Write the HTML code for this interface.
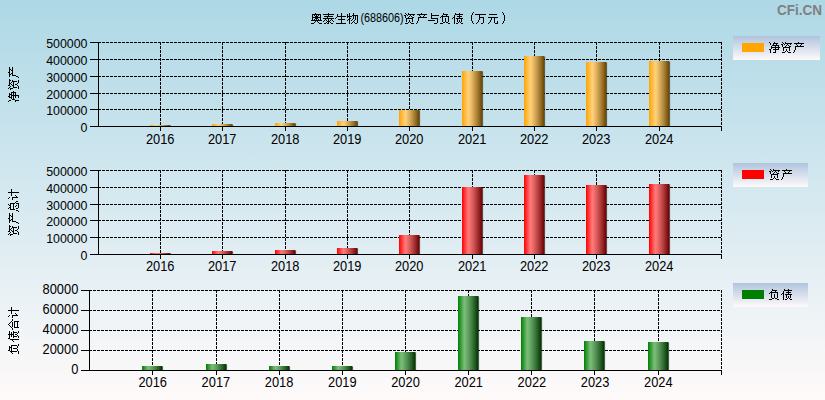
<!DOCTYPE html>
<html><head><meta charset="utf-8"><title>chart</title>
<style>
html,body{margin:0;padding:0;background:#fff;}
body{width:825px;height:400px;overflow:hidden;}
svg{display:block;font-family:"Liberation Sans",sans-serif;}
.yl text{font-size:12.4px;fill:#000;}
.xl text{font-size:12.85px;fill:#000;}
.wm{font-family:"Liberation Sans",sans-serif;}
</style></head><body>
<svg width="825" height="400" viewBox="0 0 825 400">
<defs>
<path id="g0" d="M4 2h1v1h-1zM1 3h9v1h-9zM1 4h1v1h-1zM3 4h1v1h-1zM5 4h1v1h-1zM7 4h1v1h-1zM9 4h1v1h-1zM1 5h1v1h-1zM4 5h3v1h-3zM9 5h1v1h-1zM1 6h9v1h-9zM1 7h1v1h-1zM4 7h3v1h-3zM9 7h1v1h-1zM1 8h1v1h-1zM3 8h1v1h-1zM5 8h1v1h-1zM7 8h1v1h-1zM9 8h1v1h-1zM0 9h11v1h-11zM4 10h1v1h-1zM6 10h1v1h-1zM3 11h1v1h-1zM7 11h1v1h-1zM0 12h3v1h-3zM8 12h3v1h-3z"/>
<path id="g1" d="M5 2h1v1h-1zM0 3h11v1h-11zM5 4h1v1h-1zM1 5h9v1h-9zM4 6h1v1h-1zM0 7h11v1h-11zM2 8h1v1h-1zM5 8h1v1h-1zM8 8h1v1h-1zM1 9h1v1h-1zM3 9h1v1h-1zM5 9h1v1h-1zM7 9h1v1h-1zM9 9h1v1h-1zM0 10h1v1h-1zM4 10h3v1h-3zM10 10h1v1h-1zM3 11h1v1h-1zM5 11h1v1h-1zM7 11h1v1h-1zM1 12h2v1h-2zM4 12h2v1h-2zM8 12h2v1h-2z"/>
<path id="g2" d="M6 2h1v1h-1zM2 3h1v1h-1zM6 3h1v1h-1zM2 4h1v1h-1zM6 4h1v1h-1zM2 5h9v1h-9zM1 6h1v1h-1zM6 6h1v1h-1zM0 7h1v1h-1zM6 7h1v1h-1zM3 8h7v1h-7zM6 9h1v1h-1zM6 10h1v1h-1zM6 11h1v1h-1zM1 12h10v1h-10z"/>
<path id="g3" d="M2 2h1v1h-1zM6 2h1v1h-1zM0 3h1v1h-1zM2 3h1v1h-1zM6 3h1v1h-1zM0 4h1v1h-1zM2 4h1v1h-1zM5 4h6v1h-6zM0 5h5v1h-5zM6 5h1v1h-1zM8 5h1v1h-1zM10 5h1v1h-1zM0 6h1v1h-1zM2 6h1v1h-1zM6 6h1v1h-1zM8 6h1v1h-1zM10 6h1v1h-1zM2 7h2v1h-2zM6 7h1v1h-1zM8 7h1v1h-1zM10 7h1v1h-1zM1 8h2v1h-2zM5 8h1v1h-1zM8 8h1v1h-1zM10 8h1v1h-1zM0 9h1v1h-1zM2 9h1v1h-1zM4 9h1v1h-1zM7 9h1v1h-1zM10 9h1v1h-1zM2 10h1v1h-1zM6 10h1v1h-1zM10 10h1v1h-1zM2 11h1v1h-1zM5 11h1v1h-1zM7 11h1v1h-1zM10 11h1v1h-1zM2 12h1v1h-1zM4 12h1v1h-1zM8 12h2v1h-2z"/>
<path id="g4" d="M1 2h1v1h-1zM4 2h1v1h-1zM2 3h1v1h-1zM4 3h7v1h-7zM0 4h2v1h-2zM3 4h1v1h-1zM6 4h1v1h-1zM9 4h1v1h-1zM1 5h1v1h-1zM5 5h1v1h-1zM7 5h1v1h-1zM1 6h1v1h-1zM4 6h1v1h-1zM8 6h2v1h-2zM2 7h7v1h-7zM2 8h1v1h-1zM8 8h1v1h-1zM2 9h1v1h-1zM5 9h1v1h-1zM8 9h1v1h-1zM2 10h1v1h-1zM5 10h1v1h-1zM8 10h1v1h-1zM4 11h1v1h-1zM6 11h1v1h-1zM1 12h3v1h-3zM7 12h3v1h-3z"/>
<path id="g5" d="M5 2h1v1h-1zM1 3h10v1h-10zM3 4h1v1h-1zM8 4h1v1h-1zM4 5h1v1h-1zM7 5h1v1h-1zM2 6h9v1h-9zM2 7h1v1h-1zM2 8h1v1h-1zM2 9h1v1h-1zM1 10h1v1h-1zM1 11h1v1h-1zM0 12h1v1h-1z"/>
<path id="g6" d="M3 2h1v1h-1zM3 3h1v1h-1zM3 4h8v1h-8zM3 5h1v1h-1zM3 6h1v1h-1zM3 7h7v1h-7zM9 8h1v1h-1zM0 9h7v1h-7zM9 9h1v1h-1zM9 10h1v1h-1zM9 11h1v1h-1zM6 12h3v1h-3z"/>
<path id="g7" d="M3 2h1v1h-1zM3 3h5v1h-5zM2 4h1v1h-1zM6 4h1v1h-1zM1 5h8v1h-8zM0 6h1v1h-1zM2 6h1v1h-1zM8 6h1v1h-1zM2 7h1v1h-1zM5 7h1v1h-1zM8 7h1v1h-1zM2 8h1v1h-1zM5 8h1v1h-1zM8 8h1v1h-1zM2 9h1v1h-1zM5 9h1v1h-1zM8 9h1v1h-1zM2 10h1v1h-1zM5 10h1v1h-1zM8 10h1v1h-1zM3 11h2v1h-2zM6 11h2v1h-2zM0 12h3v1h-3zM8 12h2v1h-2z"/>
<path id="g8" d="M3 2h1v1h-1zM7 2h1v1h-1zM3 3h8v1h-8zM2 4h1v1h-1zM7 4h1v1h-1zM2 5h1v1h-1zM5 5h5v1h-5zM1 6h2v1h-2zM7 6h1v1h-1zM0 7h1v1h-1zM2 7h1v1h-1zM4 7h7v1h-7zM2 8h1v1h-1zM5 8h1v1h-1zM9 8h1v1h-1zM2 9h1v1h-1zM5 9h1v1h-1zM7 9h1v1h-1zM9 9h1v1h-1zM2 10h1v1h-1zM5 10h1v1h-1zM7 10h1v1h-1zM9 10h1v1h-1zM2 11h1v1h-1zM6 11h1v1h-1zM8 11h1v1h-1zM2 12h1v1h-1zM4 12h2v1h-2zM9 12h2v1h-2z"/>
<path id="g9" d="M9 1h1v1h-1zM8 2h1v1h-1zM8 3h1v1h-1zM7 4h1v1h-1zM7 5h1v1h-1zM7 6h1v1h-1zM7 7h1v1h-1zM7 8h1v1h-1zM7 9h1v1h-1zM8 10h1v1h-1zM8 11h1v1h-1zM9 12h1v1h-1z"/>
<path id="g10" d="M0 3h11v1h-11zM4 4h1v1h-1zM4 5h1v1h-1zM4 6h5v1h-5zM4 7h1v1h-1zM8 7h1v1h-1zM4 8h1v1h-1zM8 8h1v1h-1zM3 9h1v1h-1zM8 9h1v1h-1zM3 10h1v1h-1zM8 10h1v1h-1zM2 11h1v1h-1zM8 11h1v1h-1zM1 12h1v1h-1zM6 12h2v1h-2z"/>
<path id="g11" d="M2 3h8v1h-8zM1 6h10v1h-10zM4 7h1v1h-1zM7 7h1v1h-1zM4 8h1v1h-1zM7 8h1v1h-1zM3 9h1v1h-1zM7 9h1v1h-1zM3 10h1v1h-1zM7 10h1v1h-1zM10 10h1v1h-1zM2 11h1v1h-1zM7 11h1v1h-1zM10 11h1v1h-1zM1 12h1v1h-1zM8 12h3v1h-3z"/>
<path id="g12" d="M3 1h1v1h-1zM4 2h1v1h-1zM4 3h1v1h-1zM5 4h1v1h-1zM5 5h1v1h-1zM5 6h1v1h-1zM5 7h1v1h-1zM5 8h1v1h-1zM5 9h1v1h-1zM4 10h1v1h-1zM4 11h1v1h-1zM3 12h1v1h-1z"/>
<linearGradient id="cy0" x1="0" x2="1" y1="0" y2="0"><stop offset="0" stop-color="#fff" stop-opacity="0"/><stop offset="0.3" stop-color="#fff" stop-opacity="0.47"/><stop offset="0.34" stop-color="#fff" stop-opacity="0.47"/><stop offset="1" stop-color="#000" stop-opacity="0.59"/></linearGradient>
<path id="g13" d="M0 2h1v1h-1zM5 2h1v1h-1zM1 3h1v1h-1zM4 3h5v1h-5zM1 4h1v1h-1zM4 4h1v1h-1zM7 4h1v1h-1zM3 5h7v1h-7zM2 6h1v1h-1zM6 6h1v1h-1zM9 6h1v1h-1zM2 7h9v1h-9zM2 8h1v1h-1zM6 8h1v1h-1zM9 8h1v1h-1zM0 9h2v1h-2zM4 9h6v1h-6zM1 10h1v1h-1zM6 10h1v1h-1zM1 11h1v1h-1zM6 11h1v1h-1zM1 12h1v1h-1zM4 12h3v1h-3z"/>
<linearGradient id="cy1" x1="0" x2="1" y1="0" y2="0"><stop offset="0" stop-color="#fff" stop-opacity="0"/><stop offset="0.3" stop-color="#fff" stop-opacity="0.47"/><stop offset="0.34" stop-color="#fff" stop-opacity="0.47"/><stop offset="1" stop-color="#000" stop-opacity="0.59"/></linearGradient>
<path id="g14" d="M3 2h1v1h-1zM7 2h1v1h-1zM4 3h1v1h-1zM6 3h1v1h-1zM2 4h7v1h-7zM2 5h1v1h-1zM8 5h1v1h-1zM2 6h1v1h-1zM8 6h1v1h-1zM2 7h7v1h-7zM2 8h1v1h-1zM8 8h1v1h-1zM5 9h1v1h-1zM9 9h1v1h-1zM1 10h1v1h-1zM3 10h1v1h-1zM6 10h1v1h-1zM8 10h1v1h-1zM10 10h1v1h-1zM1 11h1v1h-1zM3 11h1v1h-1zM8 11h1v1h-1zM10 11h1v1h-1zM0 12h1v1h-1zM4 12h5v1h-5z"/>
<path id="g15" d="M1 2h1v1h-1zM7 2h1v1h-1zM2 3h1v1h-1zM7 3h1v1h-1zM7 4h1v1h-1zM4 5h7v1h-7zM0 6h3v1h-3zM7 6h1v1h-1zM2 7h1v1h-1zM7 7h1v1h-1zM2 8h1v1h-1zM7 8h1v1h-1zM2 9h1v1h-1zM4 9h1v1h-1zM7 9h1v1h-1zM2 10h2v1h-2zM7 10h1v1h-1zM2 11h1v1h-1zM7 11h1v1h-1zM7 12h1v1h-1z"/>
<linearGradient id="cy2" x1="0" x2="1" y1="0" y2="0"><stop offset="0" stop-color="#fff" stop-opacity="0"/><stop offset="0.3" stop-color="#fff" stop-opacity="0.47"/><stop offset="0.34" stop-color="#fff" stop-opacity="0.47"/><stop offset="1" stop-color="#000" stop-opacity="0.59"/></linearGradient>
<path id="g16" d="M5 2h1v1h-1zM4 3h1v1h-1zM6 3h1v1h-1zM3 4h1v1h-1zM7 4h1v1h-1zM2 5h1v1h-1zM8 5h1v1h-1zM0 6h2v1h-2zM3 6h5v1h-5zM9 6h2v1h-2zM2 8h7v1h-7zM2 9h1v1h-1zM8 9h1v1h-1zM2 10h1v1h-1zM8 10h1v1h-1zM2 11h7v1h-7zM2 12h1v1h-1zM8 12h1v1h-1z"/>
<linearGradient id="lg" x1="0" x2="0" y1="0" y2="1"><stop offset="0" stop-color="#b0c4de"/><stop offset="1" stop-color="#fffafa"/></linearGradient>
<linearGradient id="bg" x1="0" x2="0" y1="0" y2="1"><stop offset="0" stop-color="#add8e6"/><stop offset="1" stop-color="#fffafa"/></linearGradient>
</defs>
<rect x="0" y="0" width="825" height="400" fill="url(#bg)"/>
<g fill="#000" shape-rendering="crispEdges">
<use href="#g0" x="311" y="11"/>
<use href="#g1" x="323" y="11"/>
<use href="#g2" x="335" y="11"/>
<use href="#g3" x="347" y="11"/>
</g>
<g fill="#000" shape-rendering="crispEdges">
<use href="#g4" x="404" y="11"/>
<use href="#g5" x="416" y="11"/>
<use href="#g6" x="428" y="11"/>
<use href="#g7" x="440" y="11"/>
<use href="#g8" x="452" y="11"/>
</g>
<g fill="#000" shape-rendering="crispEdges">
<use href="#g9" x="464" y="11"/>
</g>
<g fill="#000" shape-rendering="crispEdges">
<use href="#g10" x="475" y="11"/>
<use href="#g11" x="487" y="11"/>
</g>
<g fill="#000" shape-rendering="crispEdges">
<use href="#g12" x="499" y="11"/>
</g>
<text transform="translate(360.4 22.1) scale(0.985 1.09)" font-size="11" fill="#000">(688606)</text>
<text transform="translate(822.1 14.7) scale(0.995 1.12)" text-anchor="end" font-size="13.6" font-weight="bold" fill="#808080" class="wm">CFi.CN</text>
<g shape-rendering="crispEdges" stroke="#000" stroke-width="1" fill="none">
<line x1="98" y1="42.5" x2="722" y2="42.5" stroke-dasharray="3 1"/>
<line x1="98" y1="59.5" x2="722" y2="59.5" stroke-dasharray="3 1"/>
<line x1="98" y1="76.5" x2="722" y2="76.5" stroke-dasharray="3 1"/>
<line x1="98" y1="93.5" x2="722" y2="93.5" stroke-dasharray="3 1"/>
<line x1="98" y1="109.5" x2="722" y2="109.5" stroke-dasharray="3 1"/>
<line x1="160.5" y1="42" x2="160.5" y2="126" stroke-dasharray="3 1"/>
<line x1="222.5" y1="42" x2="222.5" y2="126" stroke-dasharray="3 1"/>
<line x1="285.5" y1="42" x2="285.5" y2="126" stroke-dasharray="3 1"/>
<line x1="347.5" y1="42" x2="347.5" y2="126" stroke-dasharray="3 1"/>
<line x1="409.5" y1="42" x2="409.5" y2="126" stroke-dasharray="3 1"/>
<line x1="472.5" y1="42" x2="472.5" y2="126" stroke-dasharray="3 1"/>
<line x1="534.5" y1="42" x2="534.5" y2="126" stroke-dasharray="3 1"/>
<line x1="596.5" y1="42" x2="596.5" y2="126" stroke-dasharray="3 1"/>
<line x1="659.5" y1="42" x2="659.5" y2="126" stroke-dasharray="3 1"/>
<line x1="721.5" y1="42" x2="721.5" y2="126" stroke-dasharray="3 1"/>
</g>
<g><rect x="150.9" y="125.5" width="20.2" height="0.5" fill="#000" fill-opacity="0.6"/>
<rect x="150" y="125" width="20.2" height="1" fill="rgb(255,165,0)"/>
<rect x="150" y="125" width="20.2" height="1" fill="url(#cy0)"/>
<rect x="212.9" y="124.5" width="20.2" height="1.5" fill="#000" fill-opacity="0.6"/>
<rect x="212" y="124" width="20.2" height="2" fill="rgb(255,165,0)"/>
<rect x="212" y="124" width="20.2" height="2" fill="url(#cy0)"/>
<rect x="275.9" y="123.5" width="20.2" height="2.5" fill="#000" fill-opacity="0.6"/>
<rect x="275" y="123" width="20.2" height="3" fill="rgb(255,165,0)"/>
<rect x="275" y="123" width="20.2" height="3" fill="url(#cy0)"/>
<rect x="337.9" y="121.5" width="20.2" height="4.5" fill="#000" fill-opacity="0.6"/>
<rect x="337" y="121" width="20.2" height="5" fill="rgb(255,165,0)"/>
<rect x="337" y="121" width="20.2" height="5" fill="url(#cy0)"/>
<rect x="399.9" y="110.5" width="20.2" height="15.5" fill="#000" fill-opacity="0.6"/>
<rect x="399" y="110" width="20.2" height="16" fill="rgb(255,165,0)"/>
<rect x="399" y="110" width="20.2" height="16" fill="url(#cy0)"/>
<rect x="462.9" y="71.5" width="20.2" height="54.5" fill="#000" fill-opacity="0.6"/>
<rect x="462" y="71" width="20.2" height="55" fill="rgb(255,165,0)"/>
<rect x="462" y="71" width="20.2" height="55" fill="url(#cy0)"/>
<rect x="524.9" y="56.5" width="20.2" height="69.5" fill="#000" fill-opacity="0.6"/>
<rect x="524" y="56" width="20.2" height="70" fill="rgb(255,165,0)"/>
<rect x="524" y="56" width="20.2" height="70" fill="url(#cy0)"/>
<rect x="586.9" y="62.5" width="20.2" height="63.5" fill="#000" fill-opacity="0.6"/>
<rect x="586" y="62" width="20.2" height="64" fill="rgb(255,165,0)"/>
<rect x="586" y="62" width="20.2" height="64" fill="url(#cy0)"/>
<rect x="649.9" y="61.5" width="20.2" height="64.5" fill="#000" fill-opacity="0.6"/>
<rect x="649" y="61" width="20.2" height="65" fill="rgb(255,165,0)"/>
<rect x="649" y="61" width="20.2" height="65" fill="url(#cy0)"/></g>
<g shape-rendering="crispEdges" stroke="#000" stroke-width="1" fill="none">
<line x1="98.5" y1="42" x2="98.5" y2="127"/>
<line x1="90" y1="126.5" x2="722" y2="126.5"/>
<line x1="90" y1="42.5" x2="99" y2="42.5"/>
<line x1="90" y1="59.5" x2="99" y2="59.5"/>
<line x1="90" y1="76.5" x2="99" y2="76.5"/>
<line x1="90" y1="93.5" x2="99" y2="93.5"/>
<line x1="90" y1="109.5" x2="99" y2="109.5"/>
<line x1="160.5" y1="127" x2="160.5" y2="131"/>
<line x1="222.5" y1="127" x2="222.5" y2="131"/>
<line x1="285.5" y1="127" x2="285.5" y2="131"/>
<line x1="347.5" y1="127" x2="347.5" y2="131"/>
<line x1="409.5" y1="127" x2="409.5" y2="131"/>
<line x1="472.5" y1="127" x2="472.5" y2="131"/>
<line x1="534.5" y1="127" x2="534.5" y2="131"/>
<line x1="596.5" y1="127" x2="596.5" y2="131"/>
<line x1="659.5" y1="127" x2="659.5" y2="131"/>
<line x1="721.5" y1="127" x2="721.5" y2="131"/>
</g>
<g class="yl" text-anchor="end">
<text x="87.5" y="47.8">500000</text>
<text x="87.5" y="64.8">400000</text>
<text x="87.5" y="81.8">300000</text>
<text x="87.5" y="98.8">200000</text>
<text x="87.5" y="114.8">100000</text>
<text x="87.5" y="131.8">0</text>
</g>
<g class="xl" text-anchor="middle">
<text transform="translate(160.2 144.0) scale(1 1.07)">2016</text>
<text transform="translate(222.2 144.0) scale(1 1.07)">2017</text>
<text transform="translate(285.2 144.0) scale(1 1.07)">2018</text>
<text transform="translate(347.2 144.0) scale(1 1.07)">2019</text>
<text transform="translate(409.2 144.0) scale(1 1.07)">2020</text>
<text transform="translate(472.2 144.0) scale(1 1.07)">2021</text>
<text transform="translate(534.2 144.0) scale(1 1.07)">2022</text>
<text transform="translate(596.2 144.0) scale(1 1.07)">2023</text>
<text transform="translate(659.2 144.0) scale(1 1.07)">2024</text>
</g>
<g transform="translate(6 102) rotate(-90)"><g fill="#000" shape-rendering="crispEdges">
<use href="#g13" x="0" y="0"/>
<use href="#g4" x="12" y="0"/>
<use href="#g5" x="24" y="0"/>
</g></g>
<rect x="733" y="36" width="87" height="24" fill="url(#lg)"/>
<rect x="742" y="43" width="22" height="9" fill="rgb(255,165,0)"/>
<g fill="#000" shape-rendering="crispEdges">
<use href="#g13" x="769" y="40"/>
<use href="#g4" x="781" y="40"/>
<use href="#g5" x="793" y="40"/>
</g>
<g shape-rendering="crispEdges" stroke="#000" stroke-width="1" fill="none">
<line x1="98" y1="170.5" x2="722" y2="170.5" stroke-dasharray="3 1"/>
<line x1="98" y1="187.5" x2="722" y2="187.5" stroke-dasharray="3 1"/>
<line x1="98" y1="204.5" x2="722" y2="204.5" stroke-dasharray="3 1"/>
<line x1="98" y1="220.5" x2="722" y2="220.5" stroke-dasharray="3 1"/>
<line x1="98" y1="237.5" x2="722" y2="237.5" stroke-dasharray="3 1"/>
<line x1="160.5" y1="170" x2="160.5" y2="254" stroke-dasharray="3 1"/>
<line x1="222.5" y1="170" x2="222.5" y2="254" stroke-dasharray="3 1"/>
<line x1="285.5" y1="170" x2="285.5" y2="254" stroke-dasharray="3 1"/>
<line x1="347.5" y1="170" x2="347.5" y2="254" stroke-dasharray="3 1"/>
<line x1="409.5" y1="170" x2="409.5" y2="254" stroke-dasharray="3 1"/>
<line x1="472.5" y1="170" x2="472.5" y2="254" stroke-dasharray="3 1"/>
<line x1="534.5" y1="170" x2="534.5" y2="254" stroke-dasharray="3 1"/>
<line x1="596.5" y1="170" x2="596.5" y2="254" stroke-dasharray="3 1"/>
<line x1="659.5" y1="170" x2="659.5" y2="254" stroke-dasharray="3 1"/>
<line x1="721.5" y1="170" x2="721.5" y2="254" stroke-dasharray="3 1"/>
</g>
<g><rect x="150.9" y="253.5" width="20.2" height="0.5" fill="#000" fill-opacity="0.6"/>
<rect x="150" y="253" width="20.2" height="1" fill="rgb(255,0,0)"/>
<rect x="150" y="253" width="20.2" height="1" fill="url(#cy1)"/>
<rect x="212.9" y="251.5" width="20.2" height="2.5" fill="#000" fill-opacity="0.6"/>
<rect x="212" y="251" width="20.2" height="3" fill="rgb(255,0,0)"/>
<rect x="212" y="251" width="20.2" height="3" fill="url(#cy1)"/>
<rect x="275.9" y="250.5" width="20.2" height="3.5" fill="#000" fill-opacity="0.6"/>
<rect x="275" y="250" width="20.2" height="4" fill="rgb(255,0,0)"/>
<rect x="275" y="250" width="20.2" height="4" fill="url(#cy1)"/>
<rect x="337.9" y="248.5" width="20.2" height="5.5" fill="#000" fill-opacity="0.6"/>
<rect x="337" y="248" width="20.2" height="6" fill="rgb(255,0,0)"/>
<rect x="337" y="248" width="20.2" height="6" fill="url(#cy1)"/>
<rect x="399.9" y="235.5" width="20.2" height="18.5" fill="#000" fill-opacity="0.6"/>
<rect x="399" y="235" width="20.2" height="19" fill="rgb(255,0,0)"/>
<rect x="399" y="235" width="20.2" height="19" fill="url(#cy1)"/>
<rect x="462.9" y="187.5" width="20.2" height="66.5" fill="#000" fill-opacity="0.6"/>
<rect x="462" y="187" width="20.2" height="67" fill="rgb(255,0,0)"/>
<rect x="462" y="187" width="20.2" height="67" fill="url(#cy1)"/>
<rect x="524.9" y="175.5" width="20.2" height="78.5" fill="#000" fill-opacity="0.6"/>
<rect x="524" y="175" width="20.2" height="79" fill="rgb(255,0,0)"/>
<rect x="524" y="175" width="20.2" height="79" fill="url(#cy1)"/>
<rect x="586.9" y="185.5" width="20.2" height="68.5" fill="#000" fill-opacity="0.6"/>
<rect x="586" y="185" width="20.2" height="69" fill="rgb(255,0,0)"/>
<rect x="586" y="185" width="20.2" height="69" fill="url(#cy1)"/>
<rect x="649.9" y="184.5" width="20.2" height="69.5" fill="#000" fill-opacity="0.6"/>
<rect x="649" y="184" width="20.2" height="70" fill="rgb(255,0,0)"/>
<rect x="649" y="184" width="20.2" height="70" fill="url(#cy1)"/></g>
<g shape-rendering="crispEdges" stroke="#000" stroke-width="1" fill="none">
<line x1="98.5" y1="170" x2="98.5" y2="255"/>
<line x1="90" y1="254.5" x2="722" y2="254.5"/>
<line x1="90" y1="170.5" x2="99" y2="170.5"/>
<line x1="90" y1="187.5" x2="99" y2="187.5"/>
<line x1="90" y1="204.5" x2="99" y2="204.5"/>
<line x1="90" y1="220.5" x2="99" y2="220.5"/>
<line x1="90" y1="237.5" x2="99" y2="237.5"/>
<line x1="160.5" y1="255" x2="160.5" y2="259"/>
<line x1="222.5" y1="255" x2="222.5" y2="259"/>
<line x1="285.5" y1="255" x2="285.5" y2="259"/>
<line x1="347.5" y1="255" x2="347.5" y2="259"/>
<line x1="409.5" y1="255" x2="409.5" y2="259"/>
<line x1="472.5" y1="255" x2="472.5" y2="259"/>
<line x1="534.5" y1="255" x2="534.5" y2="259"/>
<line x1="596.5" y1="255" x2="596.5" y2="259"/>
<line x1="659.5" y1="255" x2="659.5" y2="259"/>
<line x1="721.5" y1="255" x2="721.5" y2="259"/>
</g>
<g class="yl" text-anchor="end">
<text x="87.5" y="175.8">500000</text>
<text x="87.5" y="192.8">400000</text>
<text x="87.5" y="209.8">300000</text>
<text x="87.5" y="225.8">200000</text>
<text x="87.5" y="242.8">100000</text>
<text x="87.5" y="259.8">0</text>
</g>
<g class="xl" text-anchor="middle">
<text transform="translate(160.2 271.0) scale(1 1.07)">2016</text>
<text transform="translate(222.2 271.0) scale(1 1.07)">2017</text>
<text transform="translate(285.2 271.0) scale(1 1.07)">2018</text>
<text transform="translate(347.2 271.0) scale(1 1.07)">2019</text>
<text transform="translate(409.2 271.0) scale(1 1.07)">2020</text>
<text transform="translate(472.2 271.0) scale(1 1.07)">2021</text>
<text transform="translate(534.2 271.0) scale(1 1.07)">2022</text>
<text transform="translate(596.2 271.0) scale(1 1.07)">2023</text>
<text transform="translate(659.2 271.0) scale(1 1.07)">2024</text>
</g>
<g transform="translate(6 236) rotate(-90)"><g fill="#000" shape-rendering="crispEdges">
<use href="#g4" x="0" y="0"/>
<use href="#g5" x="12" y="0"/>
<use href="#g14" x="24" y="0"/>
<use href="#g15" x="36" y="0"/>
</g></g>
<rect x="733" y="163" width="75" height="24" fill="url(#lg)"/>
<rect x="742" y="170" width="22" height="9" fill="rgb(255,0,0)"/>
<g fill="#000" shape-rendering="crispEdges">
<use href="#g4" x="769" y="167"/>
<use href="#g5" x="781" y="167"/>
</g>
<g shape-rendering="crispEdges" stroke="#000" stroke-width="1" fill="none">
<line x1="89" y1="290.5" x2="722" y2="290.5" stroke-dasharray="3 1"/>
<line x1="89" y1="310.5" x2="722" y2="310.5" stroke-dasharray="3 1"/>
<line x1="89" y1="330.5" x2="722" y2="330.5" stroke-dasharray="3 1"/>
<line x1="89" y1="350.5" x2="722" y2="350.5" stroke-dasharray="3 1"/>
<line x1="152.5" y1="290" x2="152.5" y2="370" stroke-dasharray="3 1"/>
<line x1="216.5" y1="290" x2="216.5" y2="370" stroke-dasharray="3 1"/>
<line x1="279.5" y1="290" x2="279.5" y2="370" stroke-dasharray="3 1"/>
<line x1="342.5" y1="290" x2="342.5" y2="370" stroke-dasharray="3 1"/>
<line x1="405.5" y1="290" x2="405.5" y2="370" stroke-dasharray="3 1"/>
<line x1="468.5" y1="290" x2="468.5" y2="370" stroke-dasharray="3 1"/>
<line x1="531.5" y1="290" x2="531.5" y2="370" stroke-dasharray="3 1"/>
<line x1="594.5" y1="290" x2="594.5" y2="370" stroke-dasharray="3 1"/>
<line x1="658.5" y1="290" x2="658.5" y2="370" stroke-dasharray="3 1"/>
<line x1="721.5" y1="290" x2="721.5" y2="370" stroke-dasharray="3 1"/>
</g>
<g><rect x="142.9" y="366.5" width="20.2" height="3.5" fill="#000" fill-opacity="0.6"/>
<rect x="142" y="366" width="20.2" height="4" fill="rgb(0,128,0)"/>
<rect x="142" y="366" width="20.2" height="4" fill="url(#cy2)"/>
<rect x="206.9" y="364.5" width="20.2" height="5.5" fill="#000" fill-opacity="0.6"/>
<rect x="206" y="364" width="20.2" height="6" fill="rgb(0,128,0)"/>
<rect x="206" y="364" width="20.2" height="6" fill="url(#cy2)"/>
<rect x="269.9" y="366.5" width="20.2" height="3.5" fill="#000" fill-opacity="0.6"/>
<rect x="269" y="366" width="20.2" height="4" fill="rgb(0,128,0)"/>
<rect x="269" y="366" width="20.2" height="4" fill="url(#cy2)"/>
<rect x="332.9" y="366.5" width="20.2" height="3.5" fill="#000" fill-opacity="0.6"/>
<rect x="332" y="366" width="20.2" height="4" fill="rgb(0,128,0)"/>
<rect x="332" y="366" width="20.2" height="4" fill="url(#cy2)"/>
<rect x="395.9" y="352.5" width="20.2" height="17.5" fill="#000" fill-opacity="0.6"/>
<rect x="395" y="352" width="20.2" height="18" fill="rgb(0,128,0)"/>
<rect x="395" y="352" width="20.2" height="18" fill="url(#cy2)"/>
<rect x="458.9" y="296.5" width="20.2" height="73.5" fill="#000" fill-opacity="0.6"/>
<rect x="458" y="296" width="20.2" height="74" fill="rgb(0,128,0)"/>
<rect x="458" y="296" width="20.2" height="74" fill="url(#cy2)"/>
<rect x="521.9" y="317.5" width="20.2" height="52.5" fill="#000" fill-opacity="0.6"/>
<rect x="521" y="317" width="20.2" height="53" fill="rgb(0,128,0)"/>
<rect x="521" y="317" width="20.2" height="53" fill="url(#cy2)"/>
<rect x="584.9" y="341.5" width="20.2" height="28.5" fill="#000" fill-opacity="0.6"/>
<rect x="584" y="341" width="20.2" height="29" fill="rgb(0,128,0)"/>
<rect x="584" y="341" width="20.2" height="29" fill="url(#cy2)"/>
<rect x="648.9" y="342.5" width="20.2" height="27.5" fill="#000" fill-opacity="0.6"/>
<rect x="648" y="342" width="20.2" height="28" fill="rgb(0,128,0)"/>
<rect x="648" y="342" width="20.2" height="28" fill="url(#cy2)"/></g>
<g shape-rendering="crispEdges" stroke="#000" stroke-width="1" fill="none">
<line x1="89.5" y1="290" x2="89.5" y2="371"/>
<line x1="81" y1="370.5" x2="722" y2="370.5"/>
<line x1="81" y1="290.5" x2="90" y2="290.5"/>
<line x1="81" y1="310.5" x2="90" y2="310.5"/>
<line x1="81" y1="330.5" x2="90" y2="330.5"/>
<line x1="81" y1="350.5" x2="90" y2="350.5"/>
<line x1="152.5" y1="371" x2="152.5" y2="375"/>
<line x1="216.5" y1="371" x2="216.5" y2="375"/>
<line x1="279.5" y1="371" x2="279.5" y2="375"/>
<line x1="342.5" y1="371" x2="342.5" y2="375"/>
<line x1="405.5" y1="371" x2="405.5" y2="375"/>
<line x1="468.5" y1="371" x2="468.5" y2="375"/>
<line x1="531.5" y1="371" x2="531.5" y2="375"/>
<line x1="594.5" y1="371" x2="594.5" y2="375"/>
<line x1="658.5" y1="371" x2="658.5" y2="375"/>
<line x1="721.5" y1="371" x2="721.5" y2="375"/>
</g>
<g class="xl" text-anchor="end">
<text transform="translate(78.3 294.0) scale(1 1.07)">80000</text>
<text transform="translate(78.3 314.0) scale(1 1.07)">60000</text>
<text transform="translate(78.3 334.0) scale(1 1.07)">40000</text>
<text transform="translate(78.3 354.0) scale(1 1.07)">20000</text>
<text transform="translate(78.3 374.0) scale(1 1.07)">0</text>
</g>
<g class="xl" text-anchor="middle">
<text transform="translate(152.7 387.0) scale(1 1.07)">2016</text>
<text transform="translate(215.9 387.0) scale(1 1.07)">2017</text>
<text transform="translate(279.1 387.0) scale(1 1.07)">2018</text>
<text transform="translate(342.3 387.0) scale(1 1.07)">2019</text>
<text transform="translate(405.5 387.0) scale(1 1.07)">2020</text>
<text transform="translate(468.7 387.0) scale(1 1.07)">2021</text>
<text transform="translate(531.9 387.0) scale(1 1.07)">2022</text>
<text transform="translate(595.1 387.0) scale(1 1.07)">2023</text>
<text transform="translate(658.3 387.0) scale(1 1.07)">2024</text>
</g>
<g transform="translate(6 354) rotate(-90)"><g fill="#000" shape-rendering="crispEdges">
<use href="#g7" x="0" y="0"/>
<use href="#g8" x="12" y="0"/>
<use href="#g16" x="24" y="0"/>
<use href="#g15" x="36" y="0"/>
</g></g>
<rect x="733" y="283" width="75" height="24" fill="url(#lg)"/>
<rect x="742" y="290" width="22" height="9" fill="rgb(0,128,0)"/>
<g fill="#000" shape-rendering="crispEdges">
<use href="#g7" x="769" y="287"/>
<use href="#g8" x="781" y="287"/>
</g>
</svg>
</body></html>
